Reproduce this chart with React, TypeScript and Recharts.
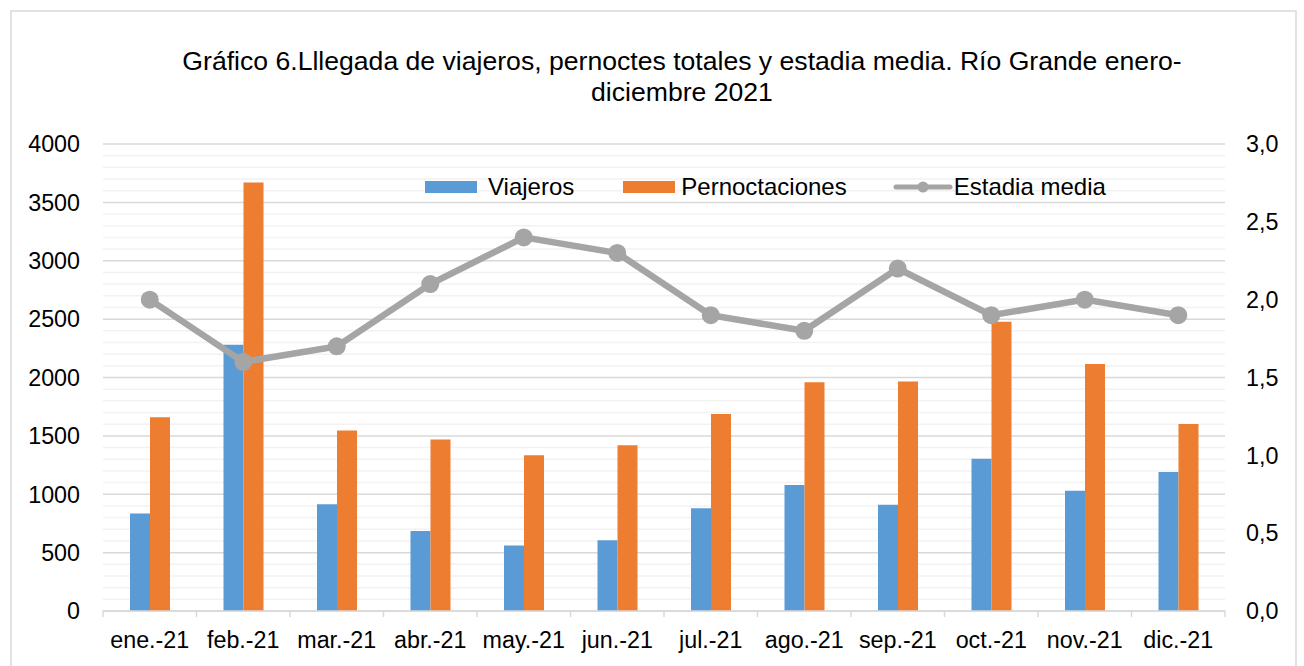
import React from 'react';
import { ComposedChart, Bar, Line, XAxis, YAxis, CartesianGrid } from 'recharts';

const months = ['ene.-21', 'feb.-21', 'mar.-21', 'abr.-21', 'may.-21', 'jun.-21', 'jul.-21', 'ago.-21', 'sep.-21', 'oct.-21', 'nov.-21', 'dic.-21'];
const viajeros = [835, 2280, 915, 685, 560, 605, 880, 1080, 910, 1305, 1030, 1190];
const pernoctaciones = [1660, 3670, 1545, 1470, 1333, 1420, 1687, 1960, 1965, 2478, 2116, 1602];
const estadiaMedia = [2.0, 1.6, 1.7, 2.1, 2.4, 2.3, 1.9, 1.8, 2.2, 1.9, 2.0, 1.9];
const leftTicks = [0, 500, 1000, 1500, 2000, 2500, 3000, 3500, 4000];
const rightTicks = [0, 0.5, 1.0, 1.5, 2.0, 2.5, 3.0];
const minorGridValues = [100, 200, 300, 400, 600, 700, 800, 900, 1100, 1200, 1300, 1400, 1600, 1700, 1800, 1900, 2100, 2200, 2300, 2400, 2600, 2700, 2800, 2900, 3100, 3200, 3300, 3400, 3600, 3700, 3800, 3900];
const seriesNames = ['Viajeros', 'Pernoctaciones', 'Estadia media'];
const titleLines = ['Gráfico 6.Lllegada de viajeros, pernoctes totales y estadia media. Río Grande enero-', 'diciembre 2021'];

const data = months.map((m, i) => ({
  month: m,
  viajeros: viajeros[i],
  pernoctaciones: pernoctaciones[i],
  estadia: estadiaMedia[i],
}));

const W = 1304;
const H = 666;
const PLOT_LEFT = 103;
const PLOT_RIGHT = 1225;
const PLOT_TOP = 144;
const X_AXIS_H = 55;
const BAND = (PLOT_RIGHT - PLOT_LEFT) / months.length;

const FONT = '"Liberation Sans", Arial, sans-serif';
const TICK_FS = 23.3;
const BLUE = '#5B9BD5';
const ORANGE = '#ED7D31';
const GRAY = '#A5A5A5';
const AXIS_GRAY = '#D9D9D9';

const XTick = (props: any) => {
  const { x, y, payload, index } = props;
  const half = BAND / 2;
  return (
    <g>
      <line x1={x - half} x2={x - half} y1={y} y2={y + 6} stroke={AXIS_GRAY} strokeWidth={1.5} />
      {index === months.length - 1 && (
        <line x1={x + half} x2={x + half} y1={y} y2={y + 6} stroke={AXIS_GRAY} strokeWidth={1.5} />
      )}
      <text x={x} y={y + 37} textAnchor="middle" fontSize={TICK_FS} fontFamily={FONT} fill="#000">
        {payload.value}
      </text>
    </g>
  );
};

const LegendBox = () => (
  <div
    style={{
      position: 'absolute',
      left: 425,
      top: 174,
      display: 'flex',
      alignItems: 'center',
      fontFamily: FONT,
      fontSize: 24,
      color: '#000',
      whiteSpace: 'nowrap',
      lineHeight: '26px',
    }}
  >
    <span style={{ display: 'inline-block', width: 52, height: 12, background: BLUE }} />
    <span style={{ marginLeft: 11 }}>{seriesNames[0]}</span>
    <span style={{ display: 'inline-block', width: 52, height: 12, background: ORANGE, marginLeft: 49 }} />
    <span style={{ marginLeft: 6 }}>{seriesNames[1]}</span>
    <svg width={60} height={14} style={{ marginLeft: 46 }}>
      <line x1={3} x2={57} y1={7} y2={7} stroke={GRAY} strokeWidth={5} strokeLinecap="round" />
      <circle cx={30} cy={7} r={5.5} fill={GRAY} />
    </svg>
    <span style={{ marginLeft: 1 }}>{seriesNames[2]}</span>
  </div>
);

export default function App() {
  return (
    <div style={{ position: 'absolute', left: 0, top: 0, width: W, height: H, overflow: 'hidden', background: '#fff' }}>
      <svg width={W} height={H} style={{ position: 'absolute', left: 0, top: 0 }}>
        <rect x={11} y={11} width={1285} height={700} fill="#fff" stroke={AXIS_GRAY} strokeWidth={1.5} />
        <text x={682} y={70} textAnchor="middle" fontSize={26.6} fontFamily={FONT} fill="#000">
          {titleLines[0]}
        </text>
        <text x={682} y={101} textAnchor="middle" fontSize={26.6} fontFamily={FONT} fill="#000">
          {titleLines[1]}
        </text>
      </svg>
      <div style={{ position: 'absolute', left: 0, top: 0 }}>
        <ComposedChart
          width={W}
          height={H}
          data={data}
          margin={{ top: PLOT_TOP, right: 0, bottom: 0, left: 0 }}
          barGap={0}
          barSize={20}
        >
          <CartesianGrid
            yAxisId="left"
            vertical={false}
            horizontalValues={minorGridValues}
            stroke="#F2F2F2"
            strokeWidth={1.5}
          />
          <CartesianGrid
            yAxisId="left"
            vertical={false}
            horizontalValues={leftTicks}
            stroke={AXIS_GRAY}
            strokeWidth={1.5}
          />
          <XAxis
            dataKey="month"
            height={X_AXIS_H}
            axisLine={{ stroke: AXIS_GRAY, strokeWidth: 1.5 }}
            tickLine={false}
            tickSize={0}
            tickMargin={0}
            tick={<XTick />}
            interval={0}
          />
          <YAxis
            yAxisId="left"
            orientation="left"
            width={PLOT_LEFT}
            domain={[0, 4000]}
            ticks={leftTicks}
            axisLine={false}
            tickLine={false}
            tickSize={0}
            tickMargin={23}
            tick={{ fontSize: TICK_FS, fontFamily: FONT, fill: '#000' }}
            interval={0}
          />
          <YAxis
            yAxisId="right"
            orientation="right"
            width={W - PLOT_RIGHT}
            domain={[0, 3]}
            ticks={rightTicks}
            axisLine={false}
            tickLine={false}
            tickSize={0}
            tickMargin={21}
            tickFormatter={(v: number) => v.toFixed(1).replace('.', ',')}
            tick={{ fontSize: TICK_FS, fontFamily: FONT, fill: '#000' }}
            interval={0}
          />
          <Bar yAxisId="left" dataKey="viajeros" name={seriesNames[0]} fill={BLUE} isAnimationActive={false} />
          <Bar yAxisId="left" dataKey="pernoctaciones" name={seriesNames[1]} fill={ORANGE} isAnimationActive={false} />
          <Line
            yAxisId="right"
            dataKey="estadia"
            name={seriesNames[2]}
            stroke={GRAY}
            strokeWidth={6.5}
            dot={{ r: 9, fill: GRAY, stroke: 'none' }}
            activeDot={false}
            isAnimationActive={false}
          />
        </ComposedChart>
      </div>
      <LegendBox />
    </div>
  );
}
